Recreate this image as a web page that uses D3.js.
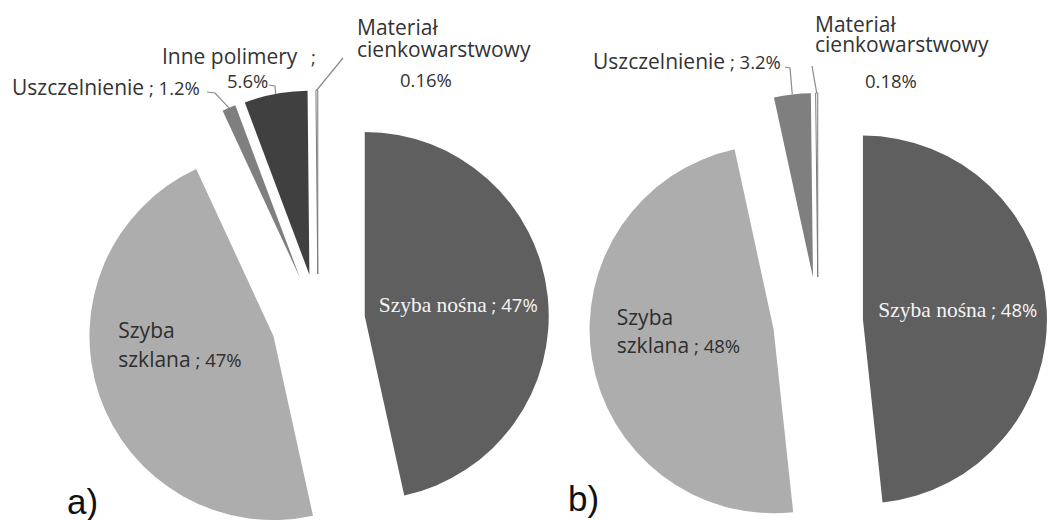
<!DOCTYPE html>
<html>
<head>
<meta charset="utf-8">
<script src="https://cdn.jsdelivr.net/npm/d3@7"></script>
<style>
  body { margin: 0; background: #fff; }
  svg { display: block; }
</style>
</head>
<body>
<div id="chart"></div>
<script>
// data
const labelsA = ['Szyba nośna', 'Szyba szklana', 'Uszczelnienie', 'Inne polimery', 'Materiał cienkowarstwowy']
const valuesA = [47, 47, 1.2, 5.6, 0.16]
const labelsB = ['Szyba nośna', 'Szyba szklana', 'Uszczelnienie', 'Materiał cienkowarstwowy']
const valuesB = [48, 48, 3.2, 0.18]

const sliceColors = {
  'Szyba nośna': '#5f5f5f',
  'Szyba szklana': '#adadad',
  'Uszczelnienie': '#7f7f7f',
  'Inne polimery': '#404040',
  'Materiał cienkowarstwowy': '#ffffff'
}

const width = 1048,
  height = 520,
  radius = 184

const wordFont = "'Open Sans', sans-serif"
const serifFont = "'Liberation Serif', serif"

let svg = d3.select('#chart')
  .append('svg')
  .attr('width', width)
  .attr('height', height)

// label layouts (text lines and leader bends); slices come from the pie
const panels = [
  {
    labels: labelsA, values: valuesA, cx: 318, cy: 321, explode: 47,
    tag: 'a)', tagX: 67, tagY: 514,
    inside: {
      0: { lines: [{ dx: 2, dy: 6, anchor: 'middle', tpl: '{name} ; {pct}' }], fill: '#f4f4f4', serif: true },
      1: { lines: [{ dx: -68, dy: -27, tpl: '{w0}' }, { dx: -68, dy: 2, tpl: '{w1} ; {pct}' }], fill: '#2e2e2e' }
    },
    outside: {
      2: { lines: [{ x: 12, y: 95, tpl: '{name} ; {pct}' }], leader: [[207, 92], [215, 93]] },
      3: { lines: [{ x: 162, y: 64, tpl: '{name}' }, { x: 311, y: 64, tpl: ';' }, { x: 227, y: 88, tpl: '{pct}' }], leader: [[269, 85], [275, 86]] },
      4: { lines: [{ x: 357, y: 35, tpl: '{w0}' }, { x: 357, y: 57, tpl: '{w1}' }, { x: 400, y: 87, tpl: '{pct}' }], leader: [[343, 58]] }
    }
  },
  {
    labels: labelsB, values: valuesB, cx: 818, cy: 322, explode: 45,
    tag: 'b)', tagX: 568, tagY: 511,
    inside: {
      0: { lines: [{ dx: 3, dy: 2, anchor: 'middle', tpl: '{name} ; {pct}' }], fill: '#f4f4f4', serif: true },
      1: { lines: [{ dx: -66, dy: -19, tpl: '{w0}' }, { dx: -66, dy: 9, tpl: '{w1} ; {pct}' }], fill: '#2e2e2e' }
    },
    outside: {
      2: { lines: [{ x: 593, y: 69, tpl: '{name} ; {pct}' }], leader: [[785, 67], [790, 68]] },
      3: { lines: [{ x: 815, y: 32, tpl: '{w0}' }, { x: 815, y: 52, tpl: '{w1}' }, { x: 865, y: 88, tpl: '{pct}' }], leader: [[812, 66]] }
    }
  }
]

// split a template into text pieces, numbers get the smaller face
let pieces = (tpl, d) => {
  const words = d.data.label.split(' ')
  return tpl.split(/(\{[a-z0-9]+\}| ; |;)/).filter(s => s !== '').map(s => {
    if (s === '{name}') return { text: d.data.label, num: false }
    if (s === '{w0}') return { text: words[0], num: false }
    if (s === '{w1}') return { text: words.slice(1).join(' '), num: false }
    if (s === '{pct}') return { text: d.data.value + '%', num: true }
    return { text: s, num: true }
  })
}

// one <text> per label, each line a positioned tspan
let writeLabel = (lines, d, opts) => {
  let t = svg.append('text')
    .attr('text-anchor', opts.anchor || 'start')
    .attr('fill', opts.fill)
    .style('white-space', 'pre')
  lines.forEach(l => {
    let line = t.append('tspan')
      .attr('x', l.x)
      .attr('y', l.y)
    pieces(l.tpl, d).forEach(p => {
      line.append('tspan')
        .attr('font-family', (!p.num && opts.serif) ? serifFont : wordFont)
        .attr('font-size', p.num ? 18.5 : (opts.serif ? 21.5 : 21))
        .text(p.text)
    })
  })
}

let drawPanel = (panel) => {
  const data = panel.labels.map((l, i) => ({ label: l, value: panel.values[i] }))

  const pie = d3.pie().sort(null).value(d => d.value)
  const arc = d3.arc().innerRadius(0).outerRadius(radius)
  const arcs = pie(data)

  let g = svg.append('g')
    .attr('transform', `translate(${panel.cx}, ${panel.cy})`)

  // offset of each slice along its bisector
  const shift = (d) => {
    const mid = (d.startAngle + d.endAngle) / 2
    return [panel.explode * Math.sin(mid), -panel.explode * Math.cos(mid)]
  }

  g.selectAll('path.slice')
    .data(arcs)
    .enter()
    .append('path')
    .attr('class', 'slice')
    .attr('transform', d => `translate(${shift(d)})`)
    .attr('d', arc)
    .attr('fill', d => sliceColors[d.data.label])
    .attr('stroke', d => d.data.label === 'Materiał cienkowarstwowy' ? '#7a7a7a' : 'none')
    .attr('stroke-width', 1)

  arcs.forEach((d, i) => {
    const s = shift(d)
    const mid = (d.startAngle + d.endAngle) / 2

    if (panel.inside[i]) {
      const lay = panel.inside[i]
      const c = arc.centroid(d)
      const lines = lay.lines.map(l => ({
        x: panel.cx + s[0] + c[0] + l.dx,
        y: panel.cy + s[1] + c[1] + l.dy,
        tpl: l.tpl
      }))
      writeLabel(lines, d, { anchor: lay.lines[0].anchor, fill: lay.fill, serif: lay.serif })
    }

    if (panel.outside[i]) {
      const lay = panel.outside[i]
      const tip = [panel.cx + s[0] + radius * Math.sin(mid), panel.cy + s[1] - radius * Math.cos(mid)]
      svg.append('path')
        .attr('d', d3.line()(lay.leader.concat([tip])))
        .attr('fill', 'none')
        .attr('stroke', '#8a8a8a')
        .attr('stroke-width', 1.2)
      writeLabel(lay.lines, d, { fill: '#333' })
    }
  })

  svg.append('text')
    .attr('x', panel.tagX)
    .attr('y', panel.tagY)
    .attr('font-family', "'Liberation Sans', Arial, sans-serif")
    .attr('font-size', 35)
    .attr('fill', '#111')
    .text(panel.tag)
}

panels.forEach(drawPanel)
</script>
</body>
</html>
